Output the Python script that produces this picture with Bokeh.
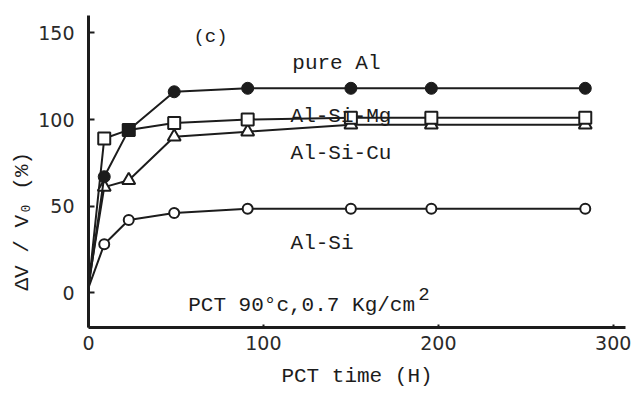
from bokeh.plotting import figure
from bokeh.models import Range1d, FixedTicker, Label, ColumnDataSource, Title
from bokeh.embed import file_html
from bokeh.resources import INLINE

# ---- data ----
time_h = [0, 9, 23, 49, 91, 150, 196, 284]
pure_al = [3, 67, 94, 116, 118, 118, 118, 118]
al_si_mg = [3, 89, 94, 98, 100, 101, 101, 101]
al_si_cu = [5, 61, 65, 90, 93, 97, 97, 97]
al_si = [3, 28, 42, 46, 48.5, 48.5, 48.5, 48.5]
pure_al_markers = ["circle", "square", "circle", "circle", "circle", "circle", "circle"]
x_ticks = [0, 100, 200, 300]
y_ticks = [0, 50, 100, 150]

INK = "#1c1c1c"
MONO = "Liberation Mono"

p = figure(width=640, height=397, output_backend="svg", toolbar_location=None,
           x_range=Range1d(0, 307), y_range=Range1d(-20, 160),
           min_border_left=88, min_border_right=15, min_border_top=15, min_border_bottom=70)
p.outline_line_color = None
p.xgrid.visible = False
p.ygrid.visible = False
p.background_fill_color = "white"
p.border_fill_color = "white"

for ax in (p.xaxis[0], p.yaxis[0]):
    ax.axis_line_width = 3
    ax.axis_line_color = INK
    ax.major_tick_line_color = INK
    ax.major_tick_line_width = 2
    ax.major_tick_out = 0
    ax.minor_tick_line_color = None
    ax.major_label_text_font = "DejaVu Sans"
    ax.major_label_text_font_size = "19px"
    ax.major_label_text_color = "#2a2a2a"

p.xaxis[0].ticker = FixedTicker(ticks=x_ticks)
p.yaxis[0].ticker = FixedTicker(ticks=y_ticks)
p.xaxis[0].major_tick_in = 3
p.yaxis[0].major_tick_in = 6
p.xaxis[0].major_label_standoff = 8
p.yaxis[0].major_label_standoff = 14
p.xaxis[0].axis_label = "PCT time (H)"
p.xaxis[0].axis_label_text_font = MONO
p.xaxis[0].axis_label_text_font_size = "21px"
p.xaxis[0].axis_label_text_font_style = "normal"
p.xaxis[0].axis_label_text_color = INK
p.xaxis[0].axis_label_standoff = 12

# y-axis title, aligned toward the bottom of the axis as in the reference
p.add_layout(Title(text="ΔV / V₀ (%)", text_font=MONO, text_font_size="21px",
                   text_font_style="normal", text_color=INK, align="left",
                   offset=37, standoff=4), "left")

series = [
    (al_si, "circle", 10, "white"),
    (al_si_cu, "triangle", 13, "white"),
    (al_si_mg, "square", 12, "white"),
]
for vals, mk, sz, fill in series:
    p.line(time_h, vals, line_color=INK, line_width=2)
for vals, mk, sz, fill in series:
    p.scatter(time_h[1:], vals[1:], marker=mk, size=sz, fill_color=fill,
              line_color=INK, line_width=2)

p.line(time_h, pure_al, line_color=INK, line_width=2)
src = ColumnDataSource(dict(x=time_h[1:], y=pure_al[1:], m=pure_al_markers))
p.scatter("x", "y", marker="m", source=src, size=12, fill_color=INK,
          line_color=INK, line_width=1)

def lab(text, x, y, size="21px", **kw):
    p.add_layout(Label(x=x, y=y, text=text, text_font=MONO, text_font_size=size,
                       text_color=INK, text_baseline="middle", **kw))

lab("(c)", 60, 147.5, size="19px")
lab("pure Al", 116.5, 132.5)
lab("Al-Si-Mg", 115.5, 102)
lab("Al-Si-Cu", 115.5, 80.5)
lab("Al-Si", 115.5, 28.5)
lab("PCT 90°c,0.7 Kg/cm", 57, -7.3)
lab("2", 188.5, -0.5, size="19px")

open("out.html", "w").write(file_html(p, INLINE))
